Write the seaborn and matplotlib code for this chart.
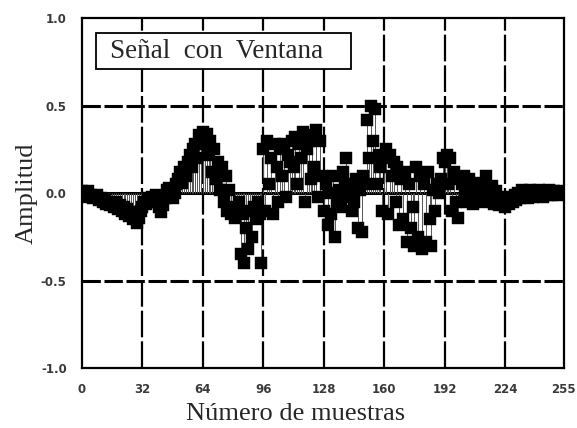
import numpy as np
import pandas as pd
import matplotlib
matplotlib.use("Agg")
import matplotlib.pyplot as plt
from matplotlib.patches import Rectangle
import seaborn as sns

amplitude = [
    0.01, 0.00, -0.01, 0.01, -0.02, -0.01, -0.03, -0.02, -0.01, -0.04, -0.03, -0.05, -0.04, -0.06, -0.05, -0.07,
    -0.06, -0.08, -0.05, -0.09, -0.07, -0.10, -0.08, -0.12, -0.09, -0.13, -0.11, -0.15, -0.12, -0.17, -0.14, -0.10,
    -0.08, -0.05, -0.06, -0.03, -0.05, -0.02, -0.04, -0.01, -0.05, -0.08, -0.11, -0.07, -0.03, 0.02, 0.03, -0.01,
    -0.03, 0.00, 0.05, 0.08, 0.12, 0.06, 0.15, 0.10, 0.18, 0.22, 0.15, 0.25, 0.28, 0.20, 0.33, 0.30,
    0.35, 0.28, 0.34, 0.22, 0.30, 0.12, 0.25, 0.08, 0.18, 0.02, 0.15, -0.05, 0.10, -0.10, 0.02, -0.12,
    -0.08, -0.14, -0.10, -0.05, -0.35, -0.12, -0.40, -0.20, -0.32, -0.10, -0.25, -0.08, -0.15, -0.05, -0.12, -0.40,
    0.25, -0.10, 0.30, 0.05, 0.20, -0.12, 0.28, 0.15, -0.05, 0.25, 0.10, 0.28, -0.02, 0.22, 0.18, 0.30,
    0.15, 0.32, 0.05, 0.28, 0.20, 0.35, -0.05, 0.25, 0.30, 0.08, 0.33, 0.15, 0.36, -0.02, 0.30, 0.10,
    -0.10, 0.05, -0.18, 0.00, -0.12, 0.10, -0.25, -0.05, 0.02, -0.08, 0.12, 0.05, 0.20, -0.02, 0.03, -0.10,
    -0.05, 0.08, -0.20, 0.02, -0.22, 0.10, 0.05, 0.42, 0.20, 0.50, 0.30, 0.48, 0.05, 0.22, 0.15, -0.10,
    0.20, 0.25, -0.12, 0.22, 0.10, 0.18, -0.05, 0.15, -0.18, 0.08, -0.15, 0.12, -0.28, 0.05, -0.20, -0.08,
    -0.30, 0.15, -0.25, 0.10, -0.32, 0.05, -0.28, 0.12, -0.15, -0.30, 0.02, -0.10, 0.05, 0.00, 0.08, 0.20,
    0.18, 0.22, 0.05, 0.20, -0.10, 0.12, -0.05, -0.14, 0.08, 0.05, 0.10, 0.02, -0.05, 0.08, 0.00, -0.06,
    0.05, -0.04, 0.06, -0.02, 0.03, -0.05, 0.10, 0.02, -0.03, 0.04, -0.06, 0.01, -0.04, -0.07, -0.02, -0.05,
    -0.08, -0.03, -0.06, -0.02, -0.05, -0.01, -0.04, 0.00, -0.03, 0.02, -0.02, 0.01, -0.03, 0.02, 0.00, -0.02,
    0.01, -0.01, 0.02, 0.00, -0.02, 0.01, -0.01, 0.02, 0.00, -0.01, 0.01, 0.00, -0.01, 0.01, 0.00, 0.00,
]
samples = list(range(len(amplitude)))
x_ticks = [0, 32, 64, 96, 128, 160, 192, 224, 255]
y_ticks = [-1.0, -0.5, 0.0, 0.5, 1.0]
y_ticklabels = ["-1.0", "-0.5", "0.0", "0.5", "1.0"]

df = pd.DataFrame({"n": samples, "amp": amplitude})

sns.set_style("white")
fig = plt.figure(figsize=(5.77, 4.28), dpi=100)
ax = fig.add_axes([0.142, 0.140, 0.835, 0.818])

# grid lines
for xv in x_ticks[1:-1]:
    ax.axvline(xv, color="black", lw=1.6, dashes=(12, 1.8), zorder=1)
for yv in [0.5, -0.5]:
    ax.axhline(yv, color="black", lw=2.2, dashes=(6, 1.2), zorder=1)
ax.axhline(0.0, color="black", lw=2.2, zorder=1)

# stems
ax.vlines(df["n"], 0, df["amp"], color="#555555", lw=0.7, zorder=2)
sns.scatterplot(data=df, x="n", y="amp", marker="s", s=64, color="black",
                edgecolor="black", linewidth=0.3, ax=ax, zorder=3, legend=False)

ax.set_xlim(0, 255)
ax.set_ylim(-1.0, 1.0)
ax.set_xticks(x_ticks)
ax.set_xticklabels([str(t) for t in x_ticks])
ax.set_yticks(y_ticks)
ax.set_yticklabels(y_ticklabels)
ax.tick_params(axis="both", direction="out", length=8, width=1.3, color="black",
               labelsize=8.5, labelcolor="#3a3a3a", pad=3)
for lab in ax.get_xticklabels() + ax.get_yticklabels():
    lab.set_fontweight("bold")
for sp in ax.spines.values():
    sp.set_color("black")
    sp.set_linewidth(1.6)

ax.set_xlabel("Número de muestras", fontsize=19, family="Liberation Serif")
ax.xaxis.set_label_coords(0.444, -0.1)
ax.set_ylabel("Amplitud", fontsize=19, family="Liberation Serif", labelpad=2)

# boxed label
ax.add_patch(Rectangle((0.029, 0.855), 0.529, 0.103, transform=ax.transAxes,
                       facecolor="white", edgecolor="black", lw=1.3, zorder=5))
ax.text(0.058, 0.905, "Señal  con  Ventana", fontsize=19.5, family="Liberation Serif",
        va="center", ha="left", zorder=6, transform=ax.transAxes)

fig.savefig("out.png", dpi=100)
